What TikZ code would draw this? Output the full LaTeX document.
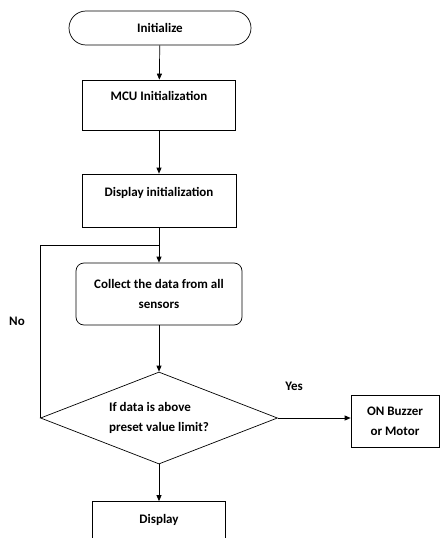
\documentclass[tikz,border=0pt]{standalone}
\usepackage{fontspec}
\setmainfont{Carlito}
\usetikzlibrary{arrows.meta, positioning, shapes.geometric}

\begin{document}
\begin{tikzpicture}[x=1pt, y=-1pt,
    block/.style={rectangle, draw=black, line width=0.7pt, minimum width=153pt, minimum height=50pt, align=center, font=\bfseries\fontsize{13}{20}\selectfont},
    topblock/.style={block, text depth=18pt},
    terminal/.style={block, rounded corners=17pt, minimum width=182pt, minimum height=34pt},
    decision/.style={diamond, aspect=2.58, draw=black, line width=0.7pt, minimum width=237pt, minimum height=92pt, inner sep=0pt, align=left, font=\bfseries\fontsize{13}{20}\selectfont},
    tag/.style={font=\bfseries\fontsize{13}{15}\selectfont},
    arrow/.style={-{Triangle[length=6pt, width=5pt]}, line width=0.7pt},
    line/.style={line width=0.7pt}
]
\useasboundingbox (0,0) rectangle (440,538);
\clip (0,0) rectangle (440,538);

% Nodes
\node[terminal] (init) at (160,28) {Initialize};
\node[topblock] (mcu) at (159,105) {MCU Initialization};
\node[topblock, minimum width=154pt, minimum height=53pt] (dispinit) at (159,200.5) {Display initialization};
\node[block, rounded corners=8pt, minimum width=166pt, minimum height=62pt] (collect) at (159,294) {Collect the data from all\\sensors};
\node[decision] (check) at (159,418) {If data is above\\preset value limit?};
\node[block, minimum width=88pt, minimum height=52pt] (buzzer) at (395,421) {ON Buzzer\\or Motor};
\node[topblock, minimum width=133pt, minimum height=53pt] (display) at (159,528) {Display};
\coordinate (join) at (159,245);

% Labels
\node[tag] (no) at (17,321) {No};
\node[tag] (yes) at (294,386) {Yes};

% Paths
\draw[arrow] (init) -- (mcu);
\draw[arrow] (mcu) -- (dispinit);
\draw[arrow] (dispinit) -- (collect);
\draw[arrow] (collect) -- (check);
\draw[arrow] (check) -- (display);
\draw[arrow] (check.east) -- (check.east -| buzzer.west);
\draw[line] (check.west) -- (check.west |- join) -- (join);

\end{tikzpicture}
\end{document}
